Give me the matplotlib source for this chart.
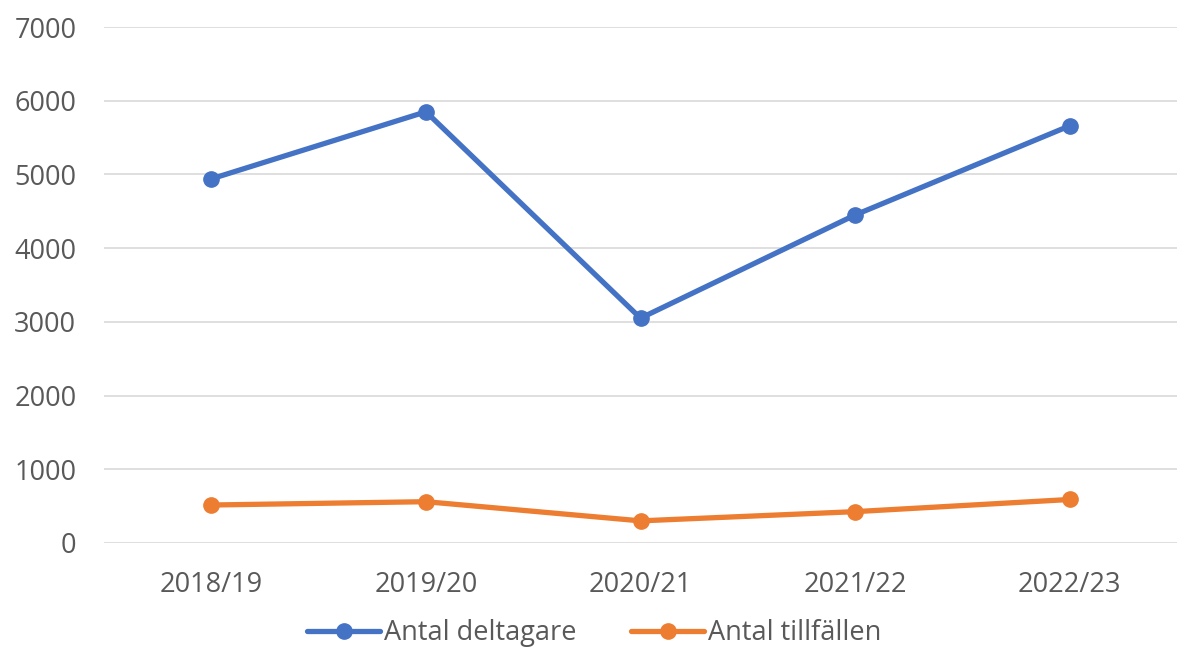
import matplotlib.pyplot as plt

# Data
years = ["2018/19", "2019/20", "2020/21", "2021/22", "2022/23"]
deltagare = [4940, 5850, 3050, 4450, 5660]
tillfallen = [515, 560, 300, 425, 590]

plt.rcParams['font.family'] = ['Open Sans', 'DejaVu Sans']

blue = "#4472C4"
orange = "#ED7D31"
grid = "#D9D9D9"
text = "#595959"

fig = plt.figure(figsize=(11.77, 6.56), dpi=100)
ax = fig.add_axes([0.0884, 0.1723, 0.9116, 0.7865])

x = range(len(years))
ax.plot(x, deltagare, color=blue, linewidth=3.8, marker='o', markersize=11,
        label="Antal deltagare", solid_capstyle='round')
ax.plot(x, tillfallen, color=orange, linewidth=3.8, marker='o', markersize=11,
        label="Antal tillfällen", solid_capstyle='round')

ax.set_xlim(-0.5, 4.5)
ax.set_ylim(0, 7000)
ax.set_yticks(range(0, 7001, 1000))
ax.set_xticks(list(x))
ax.set_xticklabels(years)
ax.yaxis.grid(True, color=grid, linewidth=1.2)
ax.set_axisbelow(True)
for s in ax.spines.values():
    s.set_visible(False)
ax.tick_params(length=0, labelsize=19.5, colors=text)
ax.tick_params(axis='y', pad=20)
ax.tick_params(axis='x', pad=20)

fig.legend(loc='center', bbox_to_anchor=(0.505, 0.035), ncol=2, frameon=False,
           fontsize=19.5, handlelength=2.7, columnspacing=2.0, handletextpad=0.15,
           labelcolor=text, borderaxespad=0, borderpad=0)

fig.savefig("out.png", dpi=100)
